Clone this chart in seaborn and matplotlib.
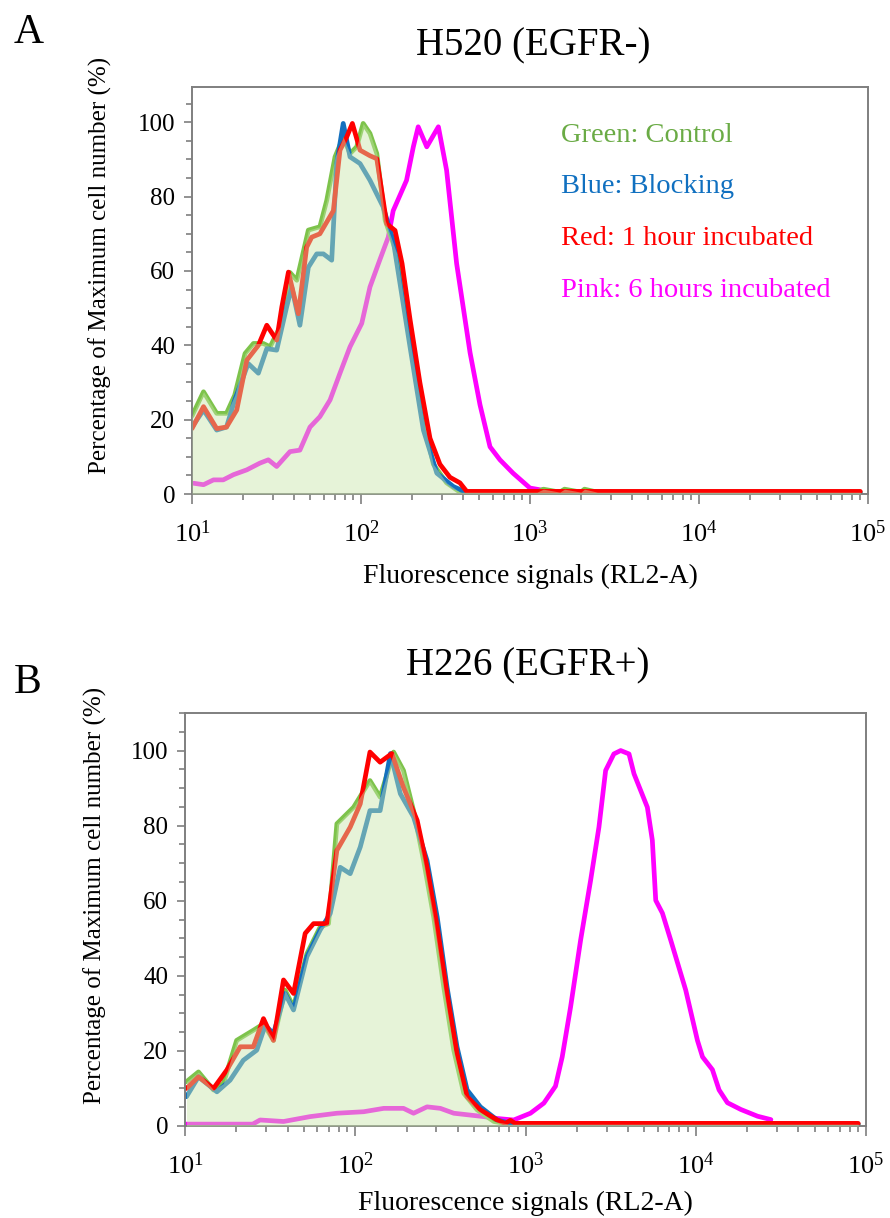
import numpy as np
import pandas as pd
import matplotlib
matplotlib.use("Agg")
import matplotlib.pyplot as plt
import seaborn as sns
from matplotlib.ticker import LogLocator, MultipleLocator, FixedLocator, NullFormatter

# ---------------- data ----------------
# Panel A : H520 (EGFR-)
a_green_x = [10, 11.7, 14, 16, 17.9, 20.6, 23.1, 26.4, 29, 33.2, 36.3, 38, 41.7, 48.8, 57.1, 62.7,
             70.2, 78.5, 86.1, 94.3, 103, 113, 124, 139, 163, 195, 234, 268, 321, 385, 1100, 1200,
             1500, 1600, 2000, 2100, 2500, 2700, 90000]
a_green_y = [21, 27.5, 21.7, 21.7, 26.6, 37.8, 40.5, 40.5, 39.6, 45, 54, 59.6, 57.5, 71, 71.9, 79,
             90.7, 96, 91.6, 93.4, 99.7, 97, 91.6, 73.6, 64.6, 41, 20, 8, 3, 0.5, 0.5, 1.3,
             0.5, 1.3, 0.5, 1.3, 0.5, 0.5, 0.5]

a_blue_x = [10, 11.7, 14, 16, 17.9, 21.5, 24.7, 27.7, 31.7, 36.3, 38.9, 43.5, 48.8, 54.7, 59.9, 67.1,
            71.8, 78.5, 86.1, 98.7, 113, 135, 155, 195, 234, 281, 352, 422, 90000]
a_blue_y = [18, 22.6, 17.2, 18, 25.3, 35.1, 32.5, 39.1, 38.7, 50.3, 55.7, 45.4, 61, 64.6, 64.6, 62.9,
            88.9, 99.7, 90.7, 88.9, 84.4, 77.3, 68.3, 39.6, 17.2, 5.6, 2, 0.4, 0.4]

a_red_x = [10, 11.7, 14, 16, 18.4, 21.1, 24.7, 27.7, 31.7, 34, 37.2, 42.6, 47.7, 51.1, 57.1, 68.6,
           75.1, 82.2, 88.9, 98.7, 113, 124, 142, 159, 175, 195, 223, 256, 293, 336, 385, 422, 90000]
a_red_y = [17.6, 23.5, 17.6, 18, 22.6, 36, 40, 45.4, 41.4, 50.3, 59.7, 48.5, 66.4, 69.1, 70, 76.2,
           92.5, 96, 99.7, 92.5, 91, 90.2, 72.7, 70.9, 62, 47, 30, 15, 8, 4.5, 3, 0.7, 0.7]

a_pink_x = [10.2, 11.7, 13.4, 15.3, 17.6, 21.1, 25.2, 28.3, 31.7, 38, 43.5, 49.9, 57.1, 65.6, 75.1,
            86.1, 101, 113, 129, 145, 155, 186, 204, 218, 245, 287, 321, 368, 442, 506, 580, 664,
            794, 1000, 1195, 1400, 3000]
a_pink_y = [2.9, 2.5, 3.8, 3.8, 5.2, 6.5, 8.3, 9.2, 7.4, 11.4, 11.8, 18, 20.8, 25.3, 32.5,
            39.6, 45.9, 55.7, 62.9, 69.1, 76.2, 84.4, 93.4, 98.8, 93.4, 98.8, 87.1, 62, 38, 24, 12.7, 9.2,
            5.6, 1.6, 1, 0.6, 0.6]

# Panel B : H226 (EGFR+)
b_green_x = [10.2, 12, 14.7, 16.8, 20.1, 25.2, 28.9, 33.1, 38.7, 43.4, 52, 62.2, 69.7, 78, 97.8,
             122, 140, 168, 192, 220, 252, 289, 331, 379, 434, 520, 652, 800, 90000]
b_green_y = [11.8, 14.4, 9.6, 11.3, 22.8, 25.5, 27.2, 22.8, 36.2, 31.7, 45.9, 53, 53.9, 80.5, 84.9,
             92, 87.6, 99.6, 94.7, 84, 70.7, 55.6, 37, 20.2, 8.7, 4.3, 1.2, 0.5, 0.5]

b_blue_x = [10.2, 12, 15.4, 18.4, 22, 26.4, 29.6, 33.1, 38.7, 43.4, 52, 62.2, 71.3, 81.6, 93.4,
            107, 122, 140, 161, 184, 220, 264, 303, 346, 396, 454, 543, 682, 850, 90000]
b_blue_y = [7.8, 13.1, 9.1, 12.2, 17.5, 20.2, 26.8, 24.6, 35.3, 30.9, 45.1, 52.2, 56.6, 68.9, 67.2,
            74.3, 84, 84, 99.2, 88.5, 82.3, 70.7, 55.6, 37, 21.1, 9.6, 5.1, 1.6, 0.5, 0.5]

b_red_x = [10.2, 12, 14.7, 17.6, 21.1, 25.2, 28.9, 33.1, 37.9, 43.4, 50.8, 56.9, 68.1, 78, 93.4,
           107, 122, 140, 164, 192, 231, 264, 303, 346, 396, 454, 543, 682, 760, 815, 870, 90000]
b_red_y = [10, 13.1, 10, 14.9, 21.1, 21.1, 28.6, 22.8, 38.9, 35.3, 51.3, 53.9, 53.9, 73.4, 79.6,
           85.8, 99.6, 96.9, 99.2, 90.2, 81.4, 69, 53, 35.3, 19.3, 7.8, 4.3, 1.6, 0.7, 1.5, 0.7, 0.7]

b_pink_x = [10, 25, 27.6, 37.9, 54.3, 78, 112, 147, 192, 220, 264, 316, 379, 475, 569, 682, 853,
            1069, 1282, 1500, 1643, 1840, 2107, 2412, 2700, 2956, 3304, 3622, 4055, 4339, 5196,
            5559, 5821, 6370, 7129, 8730, 10230, 10960, 12530, 13710, 15350, 18400, 23080, 27630]
b_pink_y = [0.5, 0.5, 1.6, 1.2, 2.5, 3.4, 3.8, 4.7, 4.7, 3.4, 5.1, 4.7, 3.4, 2.9, 2.5, 2, 1.6,
            3.4, 6.1, 10.6, 18.4, 31.7, 49.5, 65.4, 79.6, 94.7, 99.1, 100, 99.1, 93.8, 84.9,
            76.1, 60.1, 56.7, 49.5, 36.2, 22.8, 18.4, 15, 9.6, 6.2, 4.4, 2.6, 1.7]

titles = ["H520 (EGFR-)", "H226 (EGFR+)"]
panel_letters = ["A", "B"]
legend_labels = ["Green: Control", "Blue: Blocking", "Red: 1 hour incubated", "Pink: 6 hours incubated"]
xlabel = "Fluorescence signals (RL2-A)"
ylabel = "Percentage of Maximum cell number (%)"
y_ticks = [0, 20, 40, 60, 80, 100]
x_ticks = [10, 100, 1000, 10000, 100000]
x_ticklabels = [r"$10^{1}$", r"$10^{2}$", r"$10^{3}$", r"$10^{4}$", r"$10^{5}$"]

# ---------------- style ----------------
sns.set_theme(style="white")
plt.rcParams["font.family"] = ["Liberation Serif", "DejaVu Serif"]
plt.rcParams["mathtext.fontset"] = "custom"
plt.rcParams["mathtext.rm"] = "Liberation Serif"
plt.rcParams["mathtext.it"] = "Liberation Serif:italic"
plt.rcParams["text.color"] = "black"
plt.rcParams["xtick.labelcolor"] = "black"
plt.rcParams["ytick.labelcolor"] = "black"

C_GREEN = "#7dc34b"
C_BLUE = "#1470be"
C_RED = "#ff0000"
C_PINK = "#ff00ff"
C_FILL = "#c8e6aa"
TXT_GREEN = "#6aab45"
TXT_BLUE = "#1070c0"
SPINE = "#7f7f7f"

W, H = 890, 1218
fig = plt.figure(figsize=(W / 100, H / 100), dpi=100)


def fx(px):
    return px / W


def fy(py):
    return 1 - py / H


def make_axes(left, right, top, bottom):
    return fig.add_axes([fx(left), fy(bottom), (right - left) / W, (bottom - top) / H])


axA = make_axes(192, 868, 87, 494)
axB = make_axes(185, 866, 713, 1126)

panels = [
    (axA, (a_green_x, a_green_y), (a_blue_x, a_blue_y), (a_red_x, a_red_y), (a_pink_x, a_pink_y), 109.5),
    (axB, (b_green_x, b_green_y), (b_blue_x, b_blue_y), (b_red_x, b_red_y), (b_pink_x, b_pink_y), 110),
]

LW = 3.4
for ax, g, b, r, p, ytop in panels:
    ax.set_xscale("log")
    sns.lineplot(x=p[0], y=p[1], ax=ax, color=C_PINK, lw=LW, sort=False, estimator=None)
    sns.lineplot(x=g[0], y=g[1], ax=ax, color=C_GREEN, lw=LW, sort=False, estimator=None)
    sns.lineplot(x=b[0], y=b[1], ax=ax, color=C_BLUE, lw=LW, sort=False, estimator=None)
    sns.lineplot(x=r[0], y=r[1], ax=ax, color=C_RED, lw=LW, sort=False, estimator=None)
    ax.fill_between(g[0], g[1], 0, color=C_FILL, alpha=0.45, lw=0, zorder=5)
    ax.set_xlim(10, 100000)
    ax.set_ylim(0, ytop)
    ax.set_xlabel("")
    ax.set_ylabel("")
    ax.xaxis.set_major_locator(FixedLocator(x_ticks))
    ax.set_xticklabels(x_ticklabels)
    ax.xaxis.set_minor_locator(LogLocator(base=10, subs=np.arange(2, 10)))
    ax.xaxis.set_minor_formatter(NullFormatter())
    ax.yaxis.set_major_locator(FixedLocator(y_ticks))
    ax.yaxis.set_minor_locator(MultipleLocator(5))
    ax.tick_params(axis="x", which="major", direction="out", length=7, width=1.2,
                   color=SPINE, labelcolor="black", labelsize=19, pad=12, bottom=True)
    ax.tick_params(axis="x", which="minor", direction="out", length=4, width=1.2,
                   color=SPINE, bottom=True)
    ax.tick_params(axis="y", which="major", direction="out", length=6, width=1.2,
                   color=SPINE, labelcolor="black", labelsize=18, pad=6, left=True)
    ax.tick_params(axis="y", which="minor", direction="out", length=4, width=1.2,
                   color=SPINE, left=True)
    for s in ax.spines.values():
        s.set_color(SPINE)
        s.set_linewidth(1.4)
        s.set_visible(True)

# titles, panel letters, axis labels
fig.text(fx(533), fy(46), titles[0], ha="center", va="center", fontsize=28, color="black")
fig.text(fx(528), fy(666), titles[1], ha="center", va="center", fontsize=28, color="black")
fig.text(fx(14), fy(43), panel_letters[0], ha="left", va="baseline", fontsize=30, color="black")
fig.text(fx(14), fy(693), panel_letters[1], ha="left", va="baseline", fontsize=30, color="black")

fig.text(fx(530), fy(583), xlabel, ha="center", va="baseline", fontsize=20, color="black")
fig.text(fx(525), fy(1210), xlabel, ha="center", va="baseline", fontsize=20, color="black")
fig.text(fx(100), fy(265), ylabel, ha="center", va="center", rotation=90, fontsize=18, color="black")
fig.text(fx(95), fy(895), ylabel, ha="center", va="center", rotation=90, fontsize=18, color="black")

# in-plot legend text (panel A)
leg_colors = [TXT_GREEN, TXT_BLUE, C_RED, C_PINK]
leg_base = [141.7, 193.3, 245, 296.7]
for lab, col, yb in zip(legend_labels, leg_colors, leg_base):
    fig.text(fx(561), fy(yb), lab, ha="left", va="baseline", fontsize=20.5, color=col)

fig.savefig("out.png", dpi=100)
